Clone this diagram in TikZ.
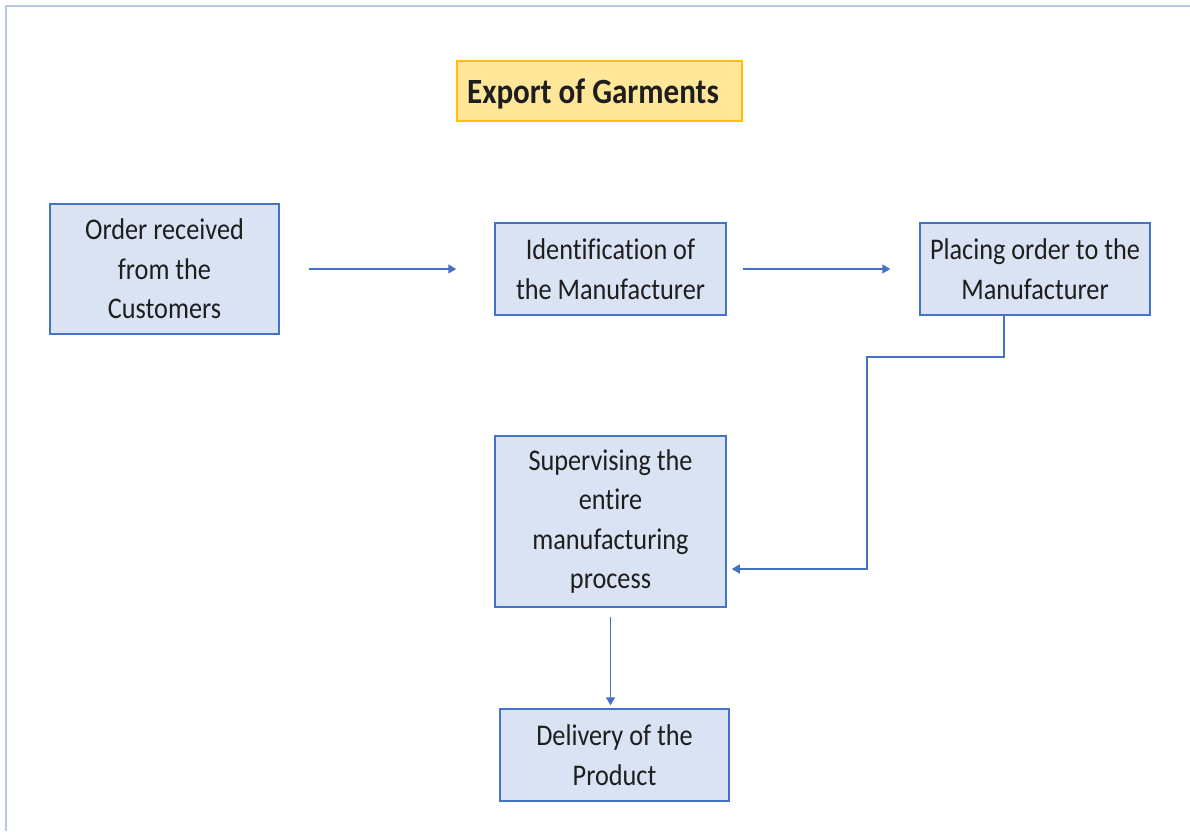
\documentclass[tikz,border=0pt]{standalone}
\usepackage{fontspec}
\setmainfont{Carlito}[FakeStretch=0.875,Ligatures=NoCommon]
\usetikzlibrary{arrows.meta,calc}
\definecolor{boxfill}{HTML}{DAE3F3}
\definecolor{boxline}{HTML}{4472C4}
\definecolor{titlefill}{HTML}{FFE699}
\definecolor{titleline}{HTML}{FFC000}
\definecolor{frameline}{HTML}{B4C7E7}
\definecolor{txt}{HTML}{1E1E1E}
\begin{document}
\begin{tikzpicture}[x=1pt,y=-1pt,
  stepbox/.style={draw=boxline, line width=1.5pt, fill=boxfill, rectangle, inner sep=0pt,
    align=center, text=txt, font=\fontsize{30}{39.5}\selectfont},
  titlebox/.style={draw=titleline, line width=1.5pt, fill=titlefill, rectangle, inner sep=0pt,
    text=txt, text height=24pt, text depth=0pt, font=\fontsize{35.5}{40}\selectfont\bfseries},
  arr/.style={draw=boxline, line width=1.5pt, -{Triangle[length=8pt,width=9pt]}}]
\useasboundingbox (0,0) rectangle (1190,831);
\fill[white] (0,0) rectangle (1190,831);
\draw[frameline, line width=2pt] (6,831) -- (6,6) -- (1190,6);
\node[titlebox, minimum width=285pt, minimum height=60pt] (T) at (599.5,91) {\hspace*{-13pt}Export of Garments};
\node[stepbox, minimum width=229pt, minimum height=130pt] (A) at (164.5,269) {Order received\\from the\\Customers};
\node[stepbox, minimum width=231pt, minimum height=92pt] (B) at (610.5,269) {Identification of\\the Manufacturer};
\node[stepbox, minimum width=230pt, minimum height=92pt] (C) at (1035,269) {Placing order to the\\Manufacturer};
\node[stepbox, minimum width=231pt, minimum height=171pt] (D) at (610.5,521.5) {Supervising the\\entire\\manufacturing\\process};
\node[stepbox, minimum width=229pt, minimum height=92pt] (E) at (614.5,755) {Delivery of the\\Product};
\coordinate (k1) at (867,357);
\draw[arr, shorten <=29pt, shorten >=38pt] (A.east) -- (B.west);
\draw[arr, shorten <=16pt, shorten >=29pt] (B.east) -- (C.west);
\draw[arr] ([xshift=-31pt]C.south) |- (k1) |- ([xshift=5pt,yshift=-47.5pt]D.east);
\draw[arr, shorten <=9pt, shorten >=3pt] (D.south) -- (D.south |- E.north);
\end{tikzpicture}
\end{document}
